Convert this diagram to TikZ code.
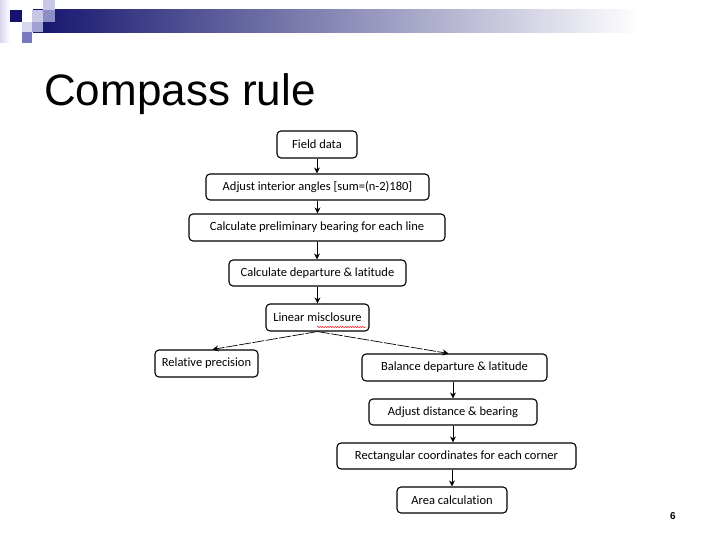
\documentclass[tikz,border=0pt]{standalone}
\usepackage{fontspec}
\setmainfont{Carlito}[Ligatures=NoCommon]
\newfontfamily\arialfont{Liberation Sans}
\usetikzlibrary{arrows.meta,decorations.pathmorphing}
\definecolor{navy}{RGB}{20,20,110}
\definecolor{sqA}{RGB}{200,200,230}
\definecolor{sqB}{RGB}{140,140,200}
\definecolor{sqC}{RGB}{215,215,238}
\definecolor{sqD}{RGB}{160,160,210}
\definecolor{sqE}{RGB}{120,120,190}
\tikzset{
  flowbox/.style={draw=black, line width=1.1pt, rounded corners=4pt, fill=white,
    inner sep=2pt, font=\fontsize{12.5}{14}\selectfont, anchor=center},
  flowarrow/.style={-{Stealth[length=6pt,width=6pt]}, line width=0.7pt},
  splitarrow/.style={-{Stealth[length=6pt,width=6pt]}, line width=0.7pt, dash pattern=on 12pt off 1.5pt},
}
\begin{document}
\begin{tikzpicture}[x=1pt,y=-1pt]
\useasboundingbox (0,0) rectangle (720,540);
\fill[white] (0,0) rectangle (720,540);
% header decoration
\shade[left color=sqC, right color=white] (0,0) rectangle (10,43);
\shade[left color=navy, right color=white] (33,10) rectangle (640,33);
\fill[navy] (10,10) rectangle (22,22);
\fill[sqA] (43,0) rectangle (55,10);
\fill[sqA] (32,10) rectangle (43,22);
\fill[sqB] (43,10) rectangle (55,22);
\fill[sqC] (22,22) rectangle (32,32);
\fill[sqD] (32,22) rectangle (43,32);
\fill[sqE] (22,32) rectangle (32,43);
% title
\node[anchor=base west, inner sep=0pt, font=\arialfont\fontsize{44}{50}\selectfont] (title) at (44,106) {Compass rule};
% boxes
\node[flowbox, minimum width=80pt, minimum height=27pt] (field) at (317,144.5) {Field data};
\node[flowbox, minimum width=223pt, minimum height=26pt] (interior) at (317.5,187) {Adjust interior angles [sum=(n-2)180]};
\node[flowbox, minimum width=256pt, minimum height=27pt] (prelim) at (317,227.5) {Calculate preliminary bearing for each line};
\node[flowbox, minimum width=177pt, minimum height=26pt] (deplat) at (317.5,273) {Calculate departure \& latitude};
\node[flowbox, minimum width=103pt, minimum height=27pt] (misc) at (317.5,317.5) {Linear misclosure};
\node[flowbox, minimum width=103pt, minimum height=27pt] (relprec) at (206.5,363.5) {Relative precision};
\node[flowbox, minimum width=185pt, minimum height=27pt] (balance) at (454.5,367.5) {Balance departure \& latitude};
\node[flowbox, minimum width=168pt, minimum height=26pt] (adjdist) at (453,412) {Adjust distance \& bearing};
\node[flowbox, minimum width=239pt, minimum height=26pt] (rect) at (456.5,456) {Rectangular coordinates for each corner};
\node[flowbox, minimum width=110pt, minimum height=26pt] (area) at (452,500) {Area calculation};
% spell-check underline
\draw[red, line width=0.5pt, decorate, decoration={snake, amplitude=0.6pt, segment length=2.5pt}] (317,327) -- (366,327);
% connectors
\draw[flowarrow] (field.south) -- (field.south |- interior.north);
\draw[flowarrow] (interior.south) -- (interior.south |- prelim.north);
\draw[flowarrow] (prelim.south) -- (prelim.south |- deplat.north);
\draw[flowarrow] (deplat.south) -- (deplat.south |- misc.north);
\draw[splitarrow] (misc.south) -- ([xshift=6pt]relprec.north);
\draw[splitarrow] (misc.south) -- ([xshift=-6pt]balance.north);
\draw[flowarrow] (adjdist.north |- balance.south) -- (adjdist.north);
\draw[flowarrow] (adjdist.south) -- (adjdist.south |- rect.north);
\draw[flowarrow] (area.north |- rect.south) -- (area.north);
% page number
\node[anchor=center, inner sep=0pt, font=\arialfont\bfseries\fontsize{10}{12}\selectfont] (pagenum) at (673,516) {6};
\end{tikzpicture}
\end{document}
